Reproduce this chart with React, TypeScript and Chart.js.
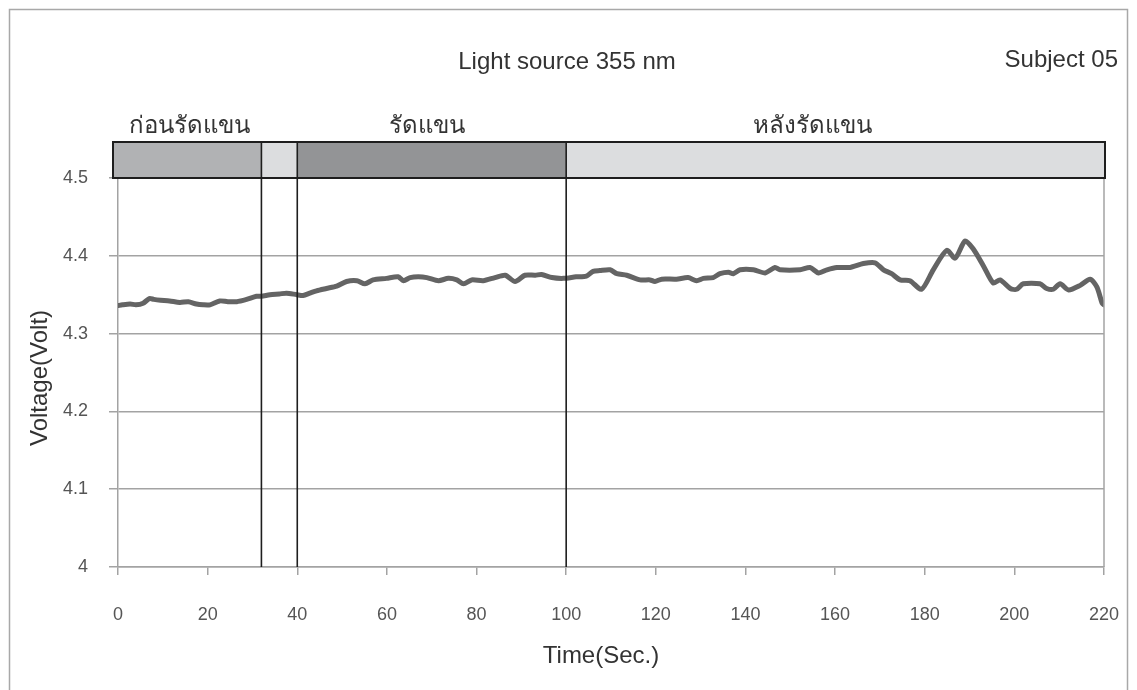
import React, { useEffect, useRef } from "react";
import { Chart, registerables } from "chart.js";

Chart.register(...registerables);

// ---- Data ----
const times = [
  0, 1, 2.7, 4, 5.6, 7, 8, 9.5, 11.5, 13.8, 15.7, 17.5, 19, 20.5, 22.7, 24.5, 26.5, 28.7,
  30.9, 32, 33.9, 36, 37.6, 39.9, 41.3, 42.8, 44.3, 46.5, 48.8, 51, 53.3, 55.1, 56.9, 59.9,
  62.5, 63.7, 65.2, 67, 68.9, 71.5, 73.7, 75.6, 77.1, 78.9, 81.5, 84.1, 86.4, 88.6, 90.8,
  93.1, 94.5, 96.8, 99.4, 102.2, 104.5, 106, 107.5, 109.8, 111.3, 113.5, 116.5, 118.7,
  119.8, 121.3, 124.6, 127.2, 129.1, 130.6, 132.8, 134.3, 136.2, 137.3, 138.8, 141.8,
  144.4, 146.6, 147.7, 152.2, 154.4, 156.3, 158.2, 160.4, 163.3, 166.3, 168.9, 170.8,
  172.6, 174.5, 176.7, 179.3, 181.9, 184.9, 186.8, 189, 190.8, 193.1, 195.3, 196.8,
  199.1, 200.5, 202, 205.7, 207.2, 208.7, 210.2, 212.1, 214.7, 216.9, 218.4, 219.6, 220,
];
const voltages = [
  4.336, 4.337, 4.338, 4.337, 4.339, 4.345, 4.344, 4.343, 4.342, 4.34, 4.341, 4.338, 4.337,
  4.337, 4.342, 4.341, 4.341, 4.344, 4.348, 4.348, 4.35, 4.351, 4.352, 4.35, 4.349, 4.352,
  4.355, 4.358, 4.361, 4.367, 4.368, 4.364, 4.369, 4.371, 4.373, 4.368, 4.372, 4.373, 4.372,
  4.368, 4.371, 4.369, 4.364, 4.369, 4.368, 4.372, 4.375, 4.367, 4.375, 4.375, 4.376, 4.372,
  4.371, 4.373, 4.374, 4.38, 4.381, 4.382, 4.377, 4.375, 4.369, 4.369, 4.367, 4.37, 4.37,
  4.372, 4.368, 4.371, 4.372, 4.377, 4.379, 4.377, 4.382, 4.382, 4.378, 4.385, 4.382, 4.382,
  4.385, 4.378, 4.382, 4.385, 4.385, 4.39, 4.391, 4.382, 4.377, 4.369, 4.368, 4.357, 4.382,
  4.407, 4.397, 4.419, 4.409, 4.387, 4.365, 4.369, 4.358, 4.357, 4.364, 4.364, 4.358, 4.357,
  4.364, 4.356, 4.362, 4.37, 4.36, 4.339, 4.337,
];

const phaseBounds = [0, 32, 40, 100, 220];
const phaseFills = ["#b1b2b4", "#dcdddf", "#939496", "#dcdddf"];
const phaseLabels = ["ก่อนรัดแขน", "รัดแขน", "หลังรัดแขน"];
const phaseLabelTimes = [16, 69, 155];
const phaseLines = [32, 40, 100];

const chartTitle = "Light source 355 nm";
const subjectLabel = "Subject 05";
const xTitle = "Time(Sec.)";
const yTitle = "Voltage(Volt)";

const FONT = "'Liberation Sans', Arial, 'DejaVu Sans', 'Noto Sans', sans-serif";
const GRID = "#a3a3a3";
const TEXT = "#333333";
const TICK = "#555555";

const overlay = {
  id: "overlay",
  beforeDraw(chart: any) {
    const { ctx, width } = chart;
    ctx.save();
    ctx.fillStyle = "#ffffff";
    ctx.fillRect(0, 0, width, chart.height);
    ctx.strokeStyle = "#a8a8a8";
    ctx.lineWidth = 1.5;
    ctx.strokeRect(9.5, 9.5, 1118, 720);
    ctx.restore();
  },
  afterDatasetsDraw(chart: any) {
    const { ctx, chartArea } = chart;
    const x = chart.scales.x;
    ctx.save();
    // right border of plot
    ctx.strokeStyle = GRID;
    ctx.lineWidth = 1.5;
    const xr = x.getPixelForValue(phaseBounds[phaseBounds.length - 1]);
    ctx.beginPath();
    ctx.moveTo(xr, chartArea.top);
    ctx.lineTo(xr, chartArea.bottom);
    ctx.stroke();

    // header band
    const bandBottom = chartArea.top;
    const bandTop = bandBottom - 36;
    for (let i = 0; i < phaseFills.length; i++) {
      let x0 = x.getPixelForValue(phaseBounds[i]);
      const x1 = x.getPixelForValue(phaseBounds[i + 1]);
      if (i === 0) x0 -= 5;
      ctx.fillStyle = phaseFills[i];
      ctx.fillRect(x0, bandTop, x1 - x0, bandBottom - bandTop);
    }
    ctx.strokeStyle = "#1e1e1e";
    ctx.lineWidth = 2;
    const bl = x.getPixelForValue(phaseBounds[0]) - 5;
    ctx.strokeRect(bl, bandTop, xr + 1 - bl, bandBottom - bandTop);

    // phase lines
    ctx.lineWidth = 1.6;
    for (const t of phaseLines) {
      const px = x.getPixelForValue(t);
      ctx.beginPath();
      ctx.moveTo(px, bandTop);
      ctx.lineTo(px, chartArea.bottom);
      ctx.stroke();
    }

    // phase labels
    ctx.fillStyle = TEXT;
    ctx.font = `24px ${FONT}`;
    ctx.textAlign = "center";
    ctx.textBaseline = "middle";
    phaseLabels.forEach((lab, i) => {
      ctx.fillText(lab, x.getPixelForValue(phaseLabelTimes[i]), bandTop - 16);
    });

    // titles
    ctx.fillText(chartTitle, 567, 62);
    ctx.textAlign = "right";
    ctx.fillText(subjectLabel, 1118, 60);
    ctx.textAlign = "center";
    ctx.fillText(xTitle, 601, 656);
    ctx.translate(40, 378);
    ctx.rotate(-Math.PI / 2);
    ctx.fillText(yTitle, 0, 0);
    ctx.restore();
  },
};

export default function App() {
  const ref = useRef<HTMLCanvasElement>(null);
  useEffect(() => {
    if (!ref.current) return;
    const chart = new Chart(ref.current, {
      type: "line",
      data: {
        datasets: [
          {
            data: times.map((t, i) => ({ x: t, y: voltages[i] })),
            borderColor: "#646464",
            borderWidth: 5,
            pointRadius: 0,
            tension: 0.25,
            borderJoinStyle: "round",
            borderCapStyle: "round",
            fill: false,
          },
        ],
      },
      options: {
        responsive: false,
        animation: false,
        devicePixelRatio: 1,
        layout: { padding: { top: 178, right: 33, left: 0, bottom: 0 } },
        plugins: { legend: { display: false }, tooltip: { enabled: false }, title: { display: false } },
        scales: {
          x: {
            type: "linear",
            min: 0,
            max: 220,
            afterFit: (s: any) => {
              s.height = 123;
              s.paddingLeft = 0;
              s.paddingRight = 0;
            },
            ticks: {
              stepSize: 20,
              color: TICK,
              font: { family: FONT, size: 18 },
              padding: 29,
              maxRotation: 0,
            },
            grid: { drawOnChartArea: false, drawTicks: true, tickLength: 8, color: GRID, lineWidth: 1.5 },
            border: { display: true, color: GRID, width: 1.5 },
          },
          y: {
            min: 4,
            max: 4.5,
            afterFit: (s: any) => {
              s.width = 118;
            },
            ticks: {
              stepSize: 0.1,
              color: TICK,
              font: { family: FONT, size: 18 },
              padding: 21,
              callback: (v: any) => String(Number(Number(v).toFixed(1))),
            },
            grid: { color: GRID, lineWidth: 1.5, tickLength: 9 },
            border: { display: true, color: GRID, width: 1.5 },
          },
        },
      },
      plugins: [overlay],
    });
    return () => chart.destroy();
  }, []);
  return (
    <div style={{ position: "absolute", left: 0, top: 0, width: 1137, height: 690 }}>
      <canvas ref={ref} width={1137} height={690} style={{ display: "block" }} />
    </div>
  );
}
